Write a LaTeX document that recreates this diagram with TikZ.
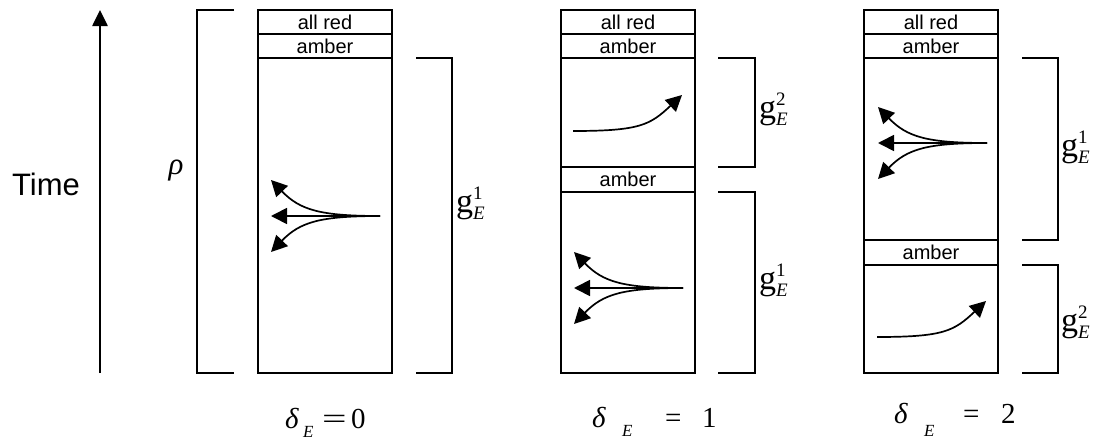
\documentclass[tikz,border=0pt]{standalone}
\usepackage{fontspec}
\usepackage{graphicx}
\setmainfont{Liberation Serif}
\newfontfamily\arialf{Liberation Sans}
\usetikzlibrary{arrows.meta}
\newcommand{\gEsym}[1]{{\fontsize{34}{34}\selectfont g}\rlap{\raisebox{13pt}{\fontsize{19}{19}\selectfont #1}}\raisebox{-7pt}{\fontsize{19}{19}\selectfont\itshape E}}
\begin{document}
\begin{tikzpicture}[x=1pt,y=-1pt,
  seg/.style={draw, line width=1.7pt, minimum width=134pt, inner sep=0pt, outer sep=0pt,
    anchor=north west, font=\arialf\fontsize{20}{20}\selectfont},
  brk/.style={line width=1.4pt},
  arr/.style={line width=1.7pt, -{Triangle[length=16pt,width=16pt]}},
  lab/.style={anchor=base west, inner sep=0pt},
  dl/.style={anchor=base west, inner sep=0pt, font=\fontsize{29}{29}\selectfont},
  ds/.style={anchor=base west, inner sep=0pt, font=\fontsize{17}{17}\selectfont\itshape},
  fan/.pic={
    \draw[arr] (0,0) -- (-109,0);
    \draw[arr] (0,0) .. controls (-60,0) and (-80,-6) .. (-109,-36);
    \draw[arr] (0,0) .. controls (-60,0) and (-80,6) .. (-109,36);
  },
  rise/.pic={
    \draw[arr] (0,0) .. controls (67,0) and (77,-6) .. (109,-36);
  }]
\useasboundingbox (0,0) rectangle (1096,439);

% Time axis
\draw[line width=2.6pt, -{Triangle[length=16pt,width=15pt]}] (100,373) -- (100,10);
\node[font=\arialf\fontsize{31}{31}\selectfont] (time) at (46,184) {Time};

% column 1
\node[seg, minimum height=24pt] (a1) at (258,10) {all red};
\node[seg, minimum height=24pt] (b1) at (258,34) {amber};
\node[seg, minimum height=315pt] (m1) at (258,58) {};
\draw[brk] (234,10) -| (197,373) -- (234,373);
\node[font=\fontsize{31}{31}\selectfont\itshape] (rho) at (176,171) {ρ};
\draw[brk] (416,58) -| (452,373) -- (416,373);
\node[lab] (g11) at (456,212) {\gEsym{1}};
\pic at (380,216) {fan};
\node[dl] (d1) at (285,428) {\itshape δ};
\node[ds] (e1) at (303,437) {E};
\node[dl] (q1) at (322,428) {\scalebox{1.5}[1]{=}};
\node[dl] (z1) at (351,428) {0};

% column 2
\node[seg, minimum height=24pt] (a2) at (561,10) {all red};
\node[seg, minimum height=24pt] (b2) at (561,34) {amber};
\node[seg, minimum height=109pt] (m2) at (561,58) {};
\node[seg, minimum height=25pt] (c2) at (561,167) {amber};
\node[seg, minimum height=181pt] (n2) at (561,192) {};
\draw[brk] (718,58) -| (755,167) -- (718,167);
\draw[brk] (718,192) -| (755,373) -- (718,373);
\node[lab] (g22) at (759,118) {\gEsym{2}};
\node[lab] (g21) at (759,289) {\gEsym{1}};
\pic at (573,131) {rise};
\pic at (683,288) {fan};
\node[dl] (d2) at (592,427) {\itshape δ};
\node[ds] (e2) at (622,436) {E};
\node[dl] (q2) at (665,427) {=};
\node[dl] (o2) at (702,427) {1};

% column 3
\node[seg, minimum height=24pt] (a3) at (864,10) {all red};
\node[seg, minimum height=24pt] (b3) at (864,34) {amber};
\node[seg, minimum height=182pt] (m3) at (864,58) {};
\node[seg, minimum height=25pt] (c3) at (864,240) {amber};
\node[seg, minimum height=108pt] (n3) at (864,265) {};
\draw[brk] (1022,58) -| (1058,240) -- (1022,240);
\draw[brk] (1022,265) -| (1058,373) -- (1022,373);
\node[lab] (g31) at (1061,156) {\gEsym{1}};
\node[lab] (g32) at (1061,331) {\gEsym{2}};
\pic at (987,143) {fan};
\pic at (877,337) {rise};
\node[dl] (d3) at (894,423) {\itshape δ};
\node[ds] (e3) at (924,436) {E};
\node[dl] (q3) at (963,423) {=};
\node[dl] (t3) at (1001,423) {2};
\end{tikzpicture}
\end{document}
